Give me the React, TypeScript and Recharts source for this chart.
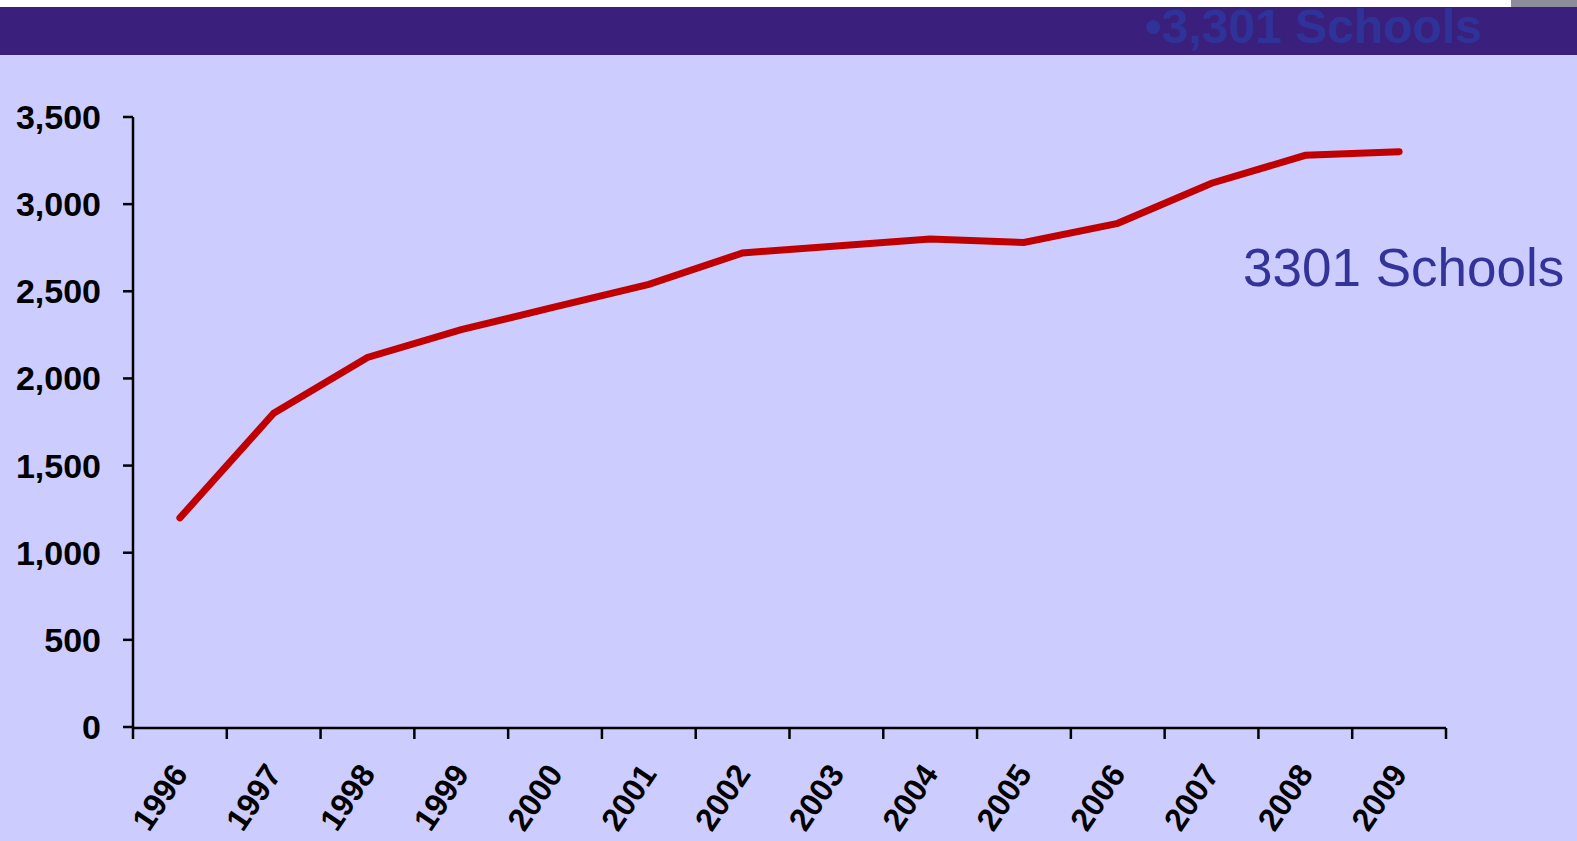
import React from "react";
import { Line, LineChart, XAxis, YAxis } from "recharts";

const years = ["1996", "1997", "1998", "1999", "2000", "2001", "2002", "2003", "2004", "2005", "2006", "2007", "2008", "2009"];
const schools = [1200, 1800, 2120, 2280, 2410, 2540, 2720, 2760, 2800, 2780, 2890, 3120, 3280, 3301];
const yTicks = [0, 500, 1000, 1500, 2000, 2500, 3000, 3500];

const data = years.map((year, i) => ({ x: i + 0.5, year, schools: schools[i] }));
const boundaryTicks = years.map((_, i) => i).concat(years.length);
const centerTicks = years.map((_, i) => i + 0.5);

const FONT = "Arial, 'Liberation Sans', sans-serif";

function YearTick({ x, y, payload }: any) {
  const label = years[Math.floor(payload.value)];
  const tx = x + 9;
  const ty = y + 47;
  return (
    <text
      x={tx}
      y={ty}
      transform={`rotate(-56 ${tx} ${ty})`}
      textAnchor="end"
      fontFamily={FONT}
      fontWeight="bold"
      fontSize={32}
      fill="#000"
    >
      {label}
    </text>
  );
}

export default function App() {
  return (
    <div style={{ position: "absolute", left: 0, top: 0, width: 1577, height: 841, background: "#CCCCFF", overflow: "hidden" }}>
      <svg width={1577} height={841} style={{ position: "absolute", left: 0, top: 0 }}>
        <rect x={0} y={7} width={1577} height={48} fill="#3B1F7C" />
        <text x={1145} y={43} fontFamily={FONT} fontWeight="bold" fontSize={48} fill="#2F3399">
          •3,301 Schools
        </text>
        <rect x={0} y={0} width={1577} height={7} fill="#fff" />
        <rect x={1511} y={0} width={66} height={7} fill="#8C8C9C" />
        <text x={1243} y={286} fontFamily={FONT} fontSize={53} fill="#333399">
          3301 Schools
        </text>
      </svg>
      <LineChart
        width={1577}
        height={841}
        data={data}
        margin={{ top: 117, right: 131, bottom: 112, left: 0 }}
        style={{ position: "absolute", left: 0, top: 0 }}
      >
        <XAxis
          xAxisId="marks"
          type="number"
          dataKey="x"
          domain={[0, years.length]}
          ticks={boundaryTicks}
          interval={0}
          tick={() => <g />}
          height={1}
          tickSize={11}
          axisLine={{ stroke: "#000", strokeWidth: 2.5 }}
          tickLine={{ stroke: "#000", strokeWidth: 2.5 }}
        />
        <XAxis
          xAxisId="labels"
          type="number"
          dataKey="x"
          domain={[0, years.length]}
          ticks={centerTicks}
          height={1}
          tickSize={0}
          tickMargin={0}
          axisLine={false}
          tickLine={false}
          interval={0}
          tick={<YearTick />}
        />
        <YAxis
          width={133}
          domain={[0, 3500]}
          ticks={yTicks}
          interval={0}
          tickSize={10}
          tickMargin={22}
          tickFormatter={(v) => Number(v).toLocaleString("en-US")}
          tick={{ fontFamily: FONT, fontWeight: "bold", fontSize: 34, fill: "#000" }}
          axisLine={{ stroke: "#000", strokeWidth: 2.5 }}
          tickLine={{ stroke: "#000", strokeWidth: 2.5 }}
        />
        <Line
          xAxisId="labels"
          type="linear"
          dataKey="schools"
          stroke="#C00000"
          strokeWidth={7}
          strokeLinecap="round"
          dot={false}
          activeDot={false}
          isAnimationActive={false}
        />
      </LineChart>
    </div>
  );
}
